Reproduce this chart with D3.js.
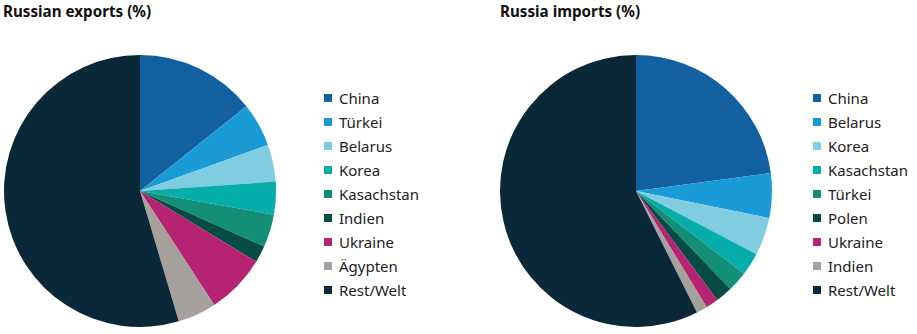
<!DOCTYPE html>
<html>
<head>
<meta charset="utf-8">
<script src="https://cdn.jsdelivr.net/npm/d3@7"></script>
<style>
  body { margin: 0; background: #fff; }
  text { font-family: "Noto Sans", "Open Sans", sans-serif; }
</style>
</head>
<body>
<script>
// exports
var exportCountries = ['China', 'Türkei', 'Belarus', 'Korea', 'Kasachstan', 'Indien', 'Ukraine', 'Ägypten', 'Rest/Welt'];
var exportValues = [14.3, 5.2, 4.4, 3.9, 3.9, 2.0, 7.1, 4.6, 54.6];
var exportColors = ['#12609f', '#1a9bd7', '#80cde1', '#05aeaa', '#138f77', '#074b45', '#b52372', '#a6a19d', '#0a2838'];

// imports
var importCountries = ['China', 'Belarus', 'Korea', 'Kasachstan', 'Türkei', 'Polen', 'Ukraine', 'Indien', 'Rest/Welt'];
var importValues = [22.9, 5.3, 4.5, 2.7, 2.4, 2.0, 1.5, 1.3, 57.4];
var importColors = ['#12609f', '#1a9bd7', '#80cde1', '#05aeaa', '#138f77', '#074b45', '#b52372', '#a6a19d', '#0a2838'];

var width = 917,
    height = 334;
var radius = 136;

var svg = d3.select("body").append("svg").attr("width", width).attr("height", height);

var pie = d3.pie().sort(null).value(function(d) { return d; });
var arc = d3.arc().innerRadius(0).outerRadius(radius);

function drawPie(title, titleX, cx, cy, names, values, colors, legendX) {
    svg.append('text')
        .attr('x', titleX).attr('y', 16.5)
        .attr('font-size', 15.2).attr('font-weight', 'bold').attr('fill', '#111')
        .text(title);

    var g = svg.append('g').attr('transform', "translate(" + cx + "," + cy + ")");
    g.selectAll('path')
        .data(pie(values))
        .enter().append('path')
        .attr('d', arc)
        .attr('fill', function(d, i) { return colors[i]; });

    var y = d3.scaleBand().domain(names).range([86, 302]);
    var legend = svg.append('g').attr('transform', "translate(" + legendX + ",0)");
    var rows = legend.selectAll('g')
        .data(names)
        .enter().append('g')
        .attr('transform', function(d) { return "translate(0," + (y(d) + y.bandwidth() / 2) + ")"; });
    rows.append('rect')
        .attr('x', 0).attr('y', -4).attr('width', 8).attr('height', 8)
        .attr('fill', function(d, i) { return colors[i]; });
    rows.append('text')
        .attr('x', 15).attr('y', 5.5)
        .attr('font-size', 15).attr('fill', '#222')
        .text(function(d) { return d; });
}

drawPie('Russian exports (%)', 3, 140, 191, exportCountries, exportValues, exportColors, 324);
drawPie('Russia imports (%)', 500, 636, 191, importCountries, importValues, importColors, 813);
</script>
</body>
</html>
